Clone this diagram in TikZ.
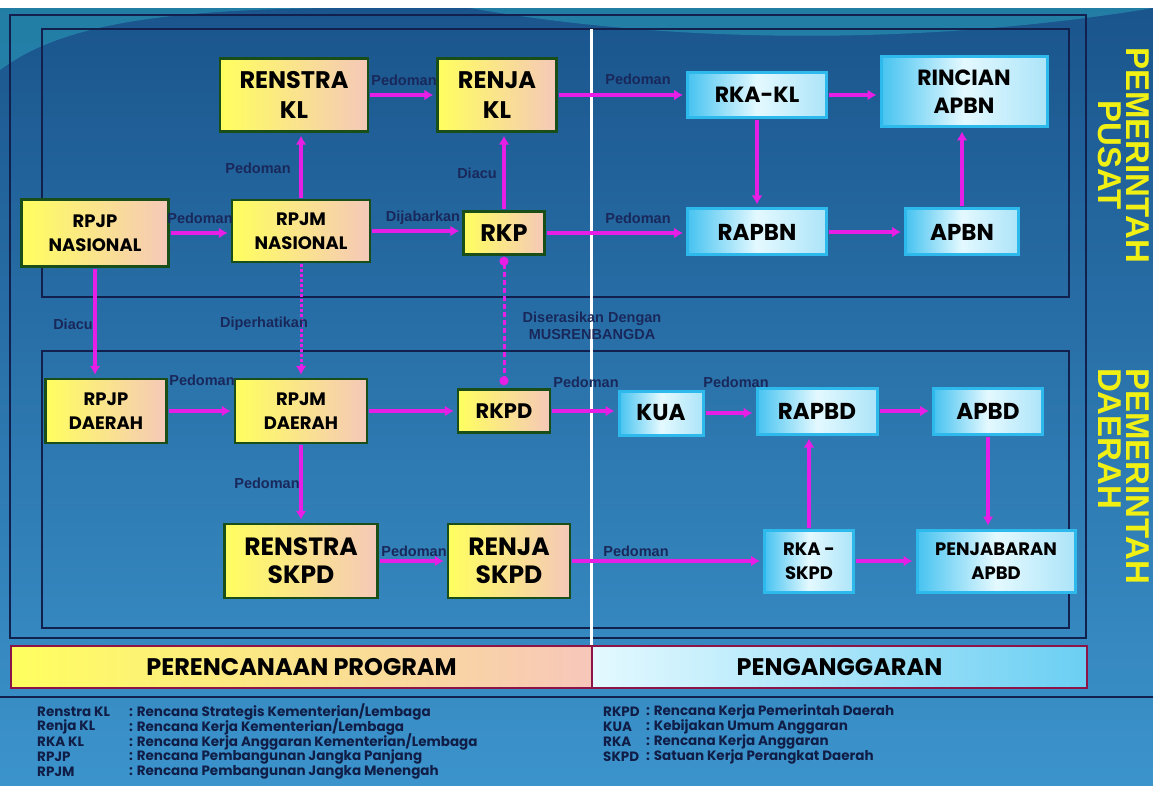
\documentclass[tikz,border=0pt]{standalone}
\usepackage{fontspec}
\setmainfont{Liberation Sans}
\newfontfamily\boxfont{Poppins}
\usetikzlibrary{arrows.meta}

\definecolor{bgtop}{RGB}{26,84,140}
\definecolor{bgbot}{RGB}{60,148,204}
\definecolor{planyel}{RGB}{255,255,95}
\definecolor{planpch}{RGB}{245,200,185}
\definecolor{planedge}{RGB}{25,78,25}
\definecolor{budcyan}{RGB}{70,195,240}
\definecolor{budpale}{RGB}{228,249,255}
\definecolor{budedge}{RGB}{45,185,235}
\definecolor{arrowmag}{RGB}{230,30,230}
\definecolor{lblnavy}{RGB}{25,40,90}
\definecolor{framenavy}{RGB}{18,32,78}
\definecolor{bandred}{RGB}{140,20,70}
\definecolor{sideyel}{RGB}{240,240,20}
\definecolor{swoosh}{RGB}{45,175,195}

\begin{document}
\begin{tikzpicture}[x=1pt, y=-1pt,
  plan/.style={draw=planedge, line width=2.5pt, left color=planyel, right color=planpch,
    align=center, inner sep=0pt, text=black},
  bud/.style={draw=budedge, line width=3pt, left color=budcyan, right color=budcyan!45!white,
    middle color=budpale, align=center, inner sep=0pt, text=black},
  fs/.style 2 args={font=\boxfont\bfseries\fontsize{#1}{#2}\selectfont},
  pipe/.style={-{Latex[length=9pt,width=11pt]}, draw=arrowmag, line width=4pt,
    shorten >=3pt, shorten <=1pt},
  lbl/.style={text=lblnavy, font=\bfseries\fontsize{14.5}{17}\selectfont, inner sep=0pt},
  frame/.style={draw=framenavy, line width=1.3pt},
  side/.style={text=sideyel, font=\bfseries\fontsize{33}{28}\selectfont, inner sep=0pt, rotate=-90},
  legend/.style={anchor=west, text=framenavy!90!black, inner sep=0pt, font=\boxfont\bfseries\fontsize{13.5}{15}\selectfont}]
\def \ww {1153}
\def \hh {786}
\path[use as bounding box] (0,0) rectangle (\ww,\hh);
\clip (0,0) rectangle (\ww,\hh);
\shade[top color=bgtop, bottom color=bgbot] (0,0) rectangle (\ww,\hh);
\fill[swoosh, opacity=0.45] (0,70) .. controls (60,25) and (160,10) .. (330,8) -- (0,8) -- cycle;
\fill[swoosh, opacity=0.45] (470,8) .. controls (680,45) and (930,45) .. (\ww,8) -- cycle;
\fill[white] (0,0) rectangle (\ww,8);

\draw[frame] (10,15) rectangle (1086,638);
\draw[frame] (42,29) rectangle (1069,297);
\draw[frame] (42,351) rectangle (1069,628);
\draw[white, line width=3pt] (591,29) -- (591,645);

\node[plan, fs={24}{30}, minimum width=148pt, minimum height=73pt] (renstrakl) at (294,95) {RENSTRA\\KL};
\node[plan, fs={24}{30}, minimum width=119pt, minimum height=73pt] (renjakl) at (497,95) {RENJA\\KL};
\node[bud, fs={22}{26}, minimum width=139pt, minimum height=45pt] (rkakl) at (757,95) {RKA-KL};
\node[bud, fs={22}{28}, minimum width=166pt, minimum height=70pt] (rincian) at (964,92) {RINCIAN\\APBN};
\node[plan, fs={18}{24}, minimum width=147pt, minimum height=67pt] (rpjpnas) at (95,233) {RPJP\\NASIONAL};
\node[plan, fs={18}{24}, minimum width=138pt, minimum height=62pt] (rpjmnas) at (301,231) {RPJM\\NASIONAL};
\node[plan, fs={24}{28}, minimum width=81pt, minimum height=43pt] (rkp) at (504,233) {RKP};
\node[bud, fs={23}{28}, minimum width=139pt, minimum height=46pt] (rapbn) at (757,232) {RAPBN};
\node[bud, fs={23}{28}, minimum width=113pt, minimum height=46pt] (apbn) at (962,232) {APBN};
\node[plan, fs={18}{24}, minimum width=121pt, minimum height=64pt] (rpjpdae) at (106,411) {RPJP\\DAERAH};
\node[plan, fs={18}{24}, minimum width=132pt, minimum height=64pt] (rpjmdae) at (301,411) {RPJM\\DAERAH};
\node[plan, fs={21}{26}, minimum width=92pt, minimum height=43pt] (rkpd) at (504,411) {RKPD};
\node[bud, fs={23}{28}, minimum width=84pt, minimum height=44pt] (kua) at (661,413) {KUA};
\node[bud, fs={23}{28}, minimum width=120pt, minimum height=46pt] (rapbd) at (817,411) {RAPBD};
\node[bud, fs={23}{28}, minimum width=109pt, minimum height=46pt] (apbd) at (988,411) {APBD};
\node[plan, fs={25}{28}, minimum width=153pt, minimum height=74pt] (renstraskpd) at (301,561) {RENSTRA\\SKPD};
\node[plan, fs={25}{28}, minimum width=122pt, minimum height=74pt] (renjaskpd) at (509,561) {RENJA\\SKPD};
\node[bud, fs={18}{24}, minimum width=89pt, minimum height=62pt] (rkaskpd) at (809,561) {RKA -\\SKPD};
\node[bud, fs={18}{24}, minimum width=158pt, minimum height=62pt] (penjabaran) at (996,561) {PENJABARAN\\APBD};

\draw[pipe] (renstrakl.east) -- (renstrakl.east -| renjakl.west);
\draw[pipe] (renjakl.east) -- (renjakl.east -| rkakl.west);
\draw[pipe] (rkakl.east) -- (rkakl.east -| rincian.west);
\draw[pipe] (rkakl.south) -- (rkakl.south |- rapbn.north);
\draw[pipe] (apbn.north) -- (apbn.north |- rincian.south);
\draw[pipe] (rpjpnas.east) -- (rpjpnas.east -| rpjmnas.west);
\draw[pipe] (rpjmnas.east) -- (rpjmnas.east -| rkp.west);
\draw[pipe] (rkp.east) -- (rkp.east -| rapbn.west);
\draw[pipe] (rapbn.east) -- (rapbn.east -| apbn.west);
\draw[pipe] (rpjmnas.north) -- (rpjmnas.north |- renstrakl.south);
\draw[pipe] (rkp.north) -- (rkp.north |- renjakl.south);
\draw[pipe] (rpjpnas.south) -- (rpjpnas.south |- rpjpdae.north);
\draw[pipe, line width=3pt, dash pattern=on 3pt off 2pt] (rpjmnas.south) -- (rpjmnas.south |- rpjmdae.north);
\draw[pipe, line width=3pt, dash pattern=on 5pt off 3pt, {Circle[length=9pt]}-{Circle[length=9pt]}]
  (rkp.south) -- (rkp.south |- rkpd.north);
\draw[pipe] (rpjpdae.east) -- (rpjpdae.east -| rpjmdae.west);
\draw[pipe] (rpjmdae.east) -- (rpjmdae.east -| rkpd.west);
\draw[pipe] (rkpd.east) -- (rkpd.east -| kua.west);
\draw[pipe] (kua.east) -- (kua.east -| rapbd.west);
\draw[pipe] (rapbd.east) -- (rapbd.east -| apbd.west);
\draw[pipe] (apbd.south) -- (apbd.south |- penjabaran.north);
\draw[pipe] (rkaskpd.north) -- (rkaskpd.north |- rapbd.south);
\draw[pipe] (rkaskpd.east) -- (rkaskpd.east -| penjabaran.west);
\draw[pipe] (rpjmdae.south) -- (rpjmdae.south |- renstraskpd.north);
\draw[pipe] (renstraskpd.east) -- (renstraskpd.east -| renjaskpd.west);
\draw[pipe] (renjaskpd.east) -- (renjaskpd.east -| rkaskpd.west);

\node[lbl] (lpedoman1) at (404,80) {Pedoman};
\node[lbl] (lpedoman2) at (638,79) {Pedoman};
\node[lbl] (lpedoman3) at (258,168) {Pedoman};
\node[lbl] (ldiacu1) at (477,173) {Diacu};
\node[lbl] (lpedoman4) at (200,218) {Pedoman};
\node[lbl] (ldijabarkan) at (423,218) {Dijabarkan};
\node[lbl] (lpedoman5) at (638,218) {Pedoman};
\node[lbl] (ldiacu2) at (73,324) {Diacu};
\node[lbl] (ldiperhatikan) at (264,324) {Diperhatikan};
\node[lbl, align=center] (ldiserasikan) at (592,326) {Diserasikan Dengan\\MUSRENBANGDA};
\node[lbl] (lpedoman6) at (202,380) {Pedoman};
\node[lbl] (lpedoman7) at (586,382) {Pedoman};
\node[lbl] (lpedoman8) at (736,382) {Pedoman};
\node[lbl] (lpedoman9) at (267,483) {Pedoman};
\node[lbl] (lpedoman10) at (414,551) {Pedoman};
\node[lbl] (lpedoman11) at (636,551) {Pedoman};

\node[side, align=center] (sidepusat) at (1124,155) {PEMERINTAH\\PUSAT};
\node[side, align=left] (sidedaerah) at (1124,476) {PEMERINTAH\\DAERAH};

\node[draw=bandred, line width=2pt, left color=planyel, right color=planpch!80!pink,
  minimum width=581pt, minimum height=42pt, inner sep=0pt, fs={24}{28}] (bandplan) at (301.5,667) {PERENCANAAN PROGRAM};
\node[draw=bandred, line width=2pt, left color=budpale, right color=budcyan!80!white,
  minimum width=495pt, minimum height=42pt, inner sep=0pt, fs={24}{28}] (bandbudget) at (839.5,667) {PENGANGGARAN};
\draw[framenavy, line width=1.5pt] (0,697) -- (\ww,697);

\node[legend] (lgrenstra) at (37,712) {Renstra KL};
\node[legend] (lgrenja) at (37,727) {Renja KL};
\node[legend] (lgrkakl) at (37,742) {RKA KL};
\node[legend] (lgrpjp) at (37,757) {RPJP};
\node[legend] (lgrpjm) at (37,772) {RPJM};
\node[legend] (dsrenstra) at (129,712) {: Rencana Strategis Kementerian/Lembaga};
\node[legend] (dsrenja) at (129,727) {: Rencana Kerja Kementerian/Lembaga};
\node[legend] (dsrkakl) at (129,742) {: Rencana Kerja Anggaran Kementerian/Lembaga};
\node[legend] (dsrpjp) at (129,757) {: Rencana Pembangunan Jangka Panjang};
\node[legend] (dsrpjm) at (129,772) {: Rencana Pembangunan Jangka Menengah};
\node[legend] (lgrkpd) at (603,712) {RKPD};
\node[legend] (lgkua) at (603,727) {KUA};
\node[legend] (lgrka) at (603,742) {RKA};
\node[legend] (lgskpd) at (603,757) {SKPD};
\node[legend] (dsrkpd) at (646,712) {: Rencana Kerja Pemerintah Daerah};
\node[legend] (dskua) at (646,727) {: Kebijakan Umum Anggaran};
\node[legend] (dsrka) at (646,742) {: Rencana Kerja Anggaran};
\node[legend] (dsskpd) at (646,757) {: Satuan Kerja Perangkat Daerah};
\end{tikzpicture}
\end{document}
